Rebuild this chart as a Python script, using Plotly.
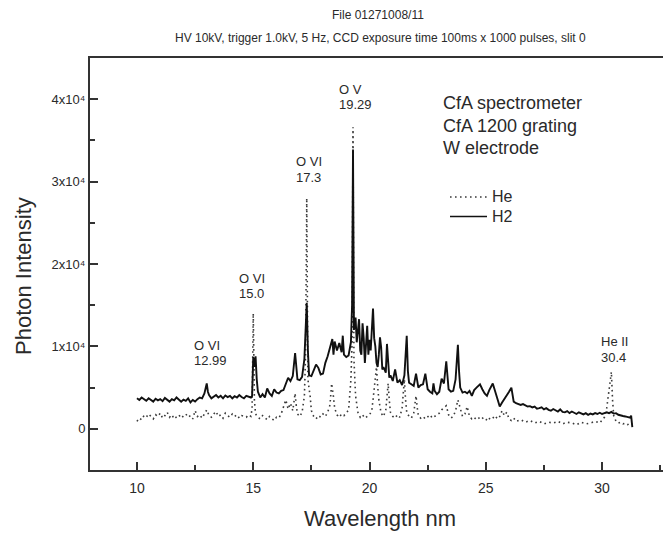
import plotly.graph_objects as go

# ---------------- data ----------------
he_wavelength = [10.0, 10.1, 10.2, 10.3, 10.4, 10.5, 10.6, 10.7, 10.8, 10.9,
                 11.0, 11.1, 11.2, 11.3, 11.4, 11.5, 11.6, 11.7, 11.8, 11.9,
                 12.0, 12.1, 12.2, 12.3, 12.4, 12.5, 12.6, 12.7, 12.8, 12.9,
                 13.0, 13.1, 13.2, 13.3, 13.4, 13.5, 13.6, 13.7, 13.8, 13.9,
                 14.0, 14.1, 14.2, 14.3, 14.4, 14.5, 14.6, 14.7, 14.8, 14.9,
                 14.95, 15.0, 15.05, 15.1, 15.2, 15.3, 15.4, 15.5, 15.6, 15.7,
                 15.8, 15.9, 16.0, 16.1, 16.2, 16.3, 16.4, 16.5, 16.6, 16.7,
                 16.8, 16.85, 16.9, 17.0, 17.1, 17.2, 17.25, 17.3, 17.35, 17.4,
                 17.45, 17.5, 17.6, 17.7, 17.8, 17.9, 18.0, 18.1, 18.2, 18.3,
                 18.37, 18.45, 18.5, 18.6, 18.7, 18.8, 18.9, 19.0, 19.1, 19.2,
                 19.25, 19.29, 19.33, 19.4, 19.5, 19.6, 19.7, 19.8, 19.9, 20.0,
                 20.1, 20.2, 20.3, 20.35, 20.4, 20.5, 20.6, 20.7, 20.8, 20.85,
                 20.9, 21.0, 21.1, 21.2, 21.3, 21.4, 21.5, 21.55, 21.6, 21.7,
                 21.8, 21.9, 22.0, 22.05, 22.1, 22.2, 22.3, 22.4, 22.5, 22.6,
                 22.7, 22.8, 22.9, 23.0, 23.1, 23.2, 23.3, 23.4, 23.5, 23.6,
                 23.7, 23.8, 23.9, 24.0, 24.1, 24.2, 24.3, 24.4, 24.5, 24.6,
                 24.7, 24.8, 24.9, 25.0, 25.1, 25.2, 25.3, 25.4, 25.5, 25.6,
                 25.7, 25.8, 25.9, 26.0, 26.1, 26.2, 26.3, 26.5, 26.7, 26.9,
                 27.1, 27.3, 27.5, 27.7, 27.9, 28.1, 28.3, 28.5, 28.7, 28.9,
                 29.1, 29.3, 29.5, 29.7, 29.9, 30.0, 30.1, 30.2, 30.3, 30.4,
                 30.45, 30.5, 30.6, 30.7, 30.8, 30.9, 31.0, 31.1, 31.2, 31.3]
he_intensity = [900, 1300, 1100, 1600, 1400, 1800, 1500, 1200, 1700, 1500,
                1900, 1300, 1600, 2000, 1400, 1700, 1200, 1500, 1700, 1300,
                1600, 1800, 1400, 1600, 1200, 2200, 1500, 1700, 1300, 1900,
                2300, 1600, 1400, 1800, 2100, 1500, 1700, 1300, 1900, 1600,
                1400, 1800, 1500, 1700, 1300, 1600, 1500, 1400, 1700, 1500,
                2500, 14000, 3500, 1800, 1400, 1200, 1600, 1300, 1100, 1500,
                1200, 1000, 1400, 1300, 1800, 2600, 3500, 2400, 3100, 2200,
                4300, 2800, 1800, 1500, 2000, 4000, 9000, 28000, 6000, 4900,
                3900, 2200, 1500, 1200, 1600, 1400, 1800, 1500, 2000, 2900,
                5500, 3900, 2500, 1700, 1400, 1800, 1600, 1900, 2300, 6000,
                10500, 36600, 8500, 4000, 2000, 1400, 1700, 1300, 1500, 1700,
                2200, 4500, 7500, 5200, 3500, 1900, 1500, 2300, 5500, 3500,
                2000, 1500, 1300, 1700, 1400, 2500, 6000, 3500, 2000, 1500,
                1300, 1900, 4000, 2600, 1600, 1300, 1500, 1200, 1400, 1700,
                1300, 1500, 1600, 1900, 2300, 2600, 2800, 1700, 1300, 1500,
                2200, 3500, 2600, 1500, 1800, 2700, 1500, 1200, 1400, 1100,
                1300, 1500, 1200, 1000, 1400, 1100, 1300, 1600, 1200, 1500,
                2200, 1600, 2000, 1200, 1000, 1300, 900, 1100, 800, 1000,
                700, 900, 600, 800, 700, 900, 600, 800, 700, 500,
                800, 600, 700, 900, 700, 1000, 1400, 2500, 4500, 6900,
                3500, 1600, 900, 700, 800, 600, 700, 500, 650, 600]

h2_wavelength = [10.0, 10.1, 10.2, 10.3, 10.4, 10.5, 10.6, 10.7, 10.8, 10.9,
                 11.0, 11.1, 11.2, 11.3, 11.4, 11.5, 11.6, 11.7, 11.8, 11.9,
                 12.0, 12.1, 12.2, 12.3, 12.4, 12.5, 12.6, 12.7, 12.8, 12.9,
                 12.95, 13.0, 13.05, 13.1, 13.2, 13.3, 13.4, 13.5, 13.6, 13.7,
                 13.8, 13.9, 14.0, 14.1, 14.2, 14.3, 14.4, 14.5, 14.6, 14.7,
                 14.8, 14.9, 14.95, 15.0, 15.05, 15.1, 15.15, 15.2, 15.3, 15.4,
                 15.5, 15.6, 15.7, 15.8, 15.9, 16.0, 16.1, 16.2, 16.3, 16.4,
                 16.5, 16.6, 16.7, 16.8, 16.85, 16.9, 17.0, 17.1, 17.2, 17.25,
                 17.3, 17.35, 17.4, 17.5, 17.6, 17.7, 17.8, 17.9, 18.0, 18.1,
                 18.2, 18.3, 18.4, 18.45, 18.5, 18.6, 18.7, 18.8, 18.85, 18.9,
                 19.0, 19.1, 19.2, 19.25, 19.29, 19.33, 19.4, 19.45, 19.5, 19.55,
                 19.6, 19.65, 19.7, 19.75, 19.8, 19.85, 19.9, 19.95, 20.0, 20.05,
                 20.1, 20.15, 20.2, 20.25, 20.3, 20.35, 20.4, 20.45, 20.5, 20.55,
                 20.6, 20.7, 20.75, 20.8, 20.85, 20.9, 21.0, 21.1, 21.2, 21.3,
                 21.4, 21.5, 21.55, 21.6, 21.65, 21.7, 21.8, 21.9, 22.0, 22.05,
                 22.1, 22.2, 22.3, 22.4, 22.45, 22.5, 22.6, 22.7, 22.75, 22.8,
                 22.9, 23.0, 23.1, 23.2, 23.3, 23.35, 23.4, 23.5, 23.6, 23.7,
                 23.8, 23.85, 23.9, 24.0, 24.1, 24.2, 24.3, 24.4, 24.5, 24.6,
                 24.75, 24.85, 24.95, 25.05, 25.15, 25.3, 25.4, 25.5, 25.6, 25.7,
                 25.8, 25.9, 26.0, 26.1, 26.2, 26.3, 26.4, 26.5, 26.6, 26.7,
                 26.8, 26.9, 27.0, 27.1, 27.2, 27.3, 27.4, 27.5, 27.6, 27.7,
                 27.8, 27.9, 28.0, 28.1, 28.2, 28.3, 28.4, 28.5, 28.6, 28.7,
                 28.8, 28.9, 29.0, 29.1, 29.2, 29.3, 29.4, 29.5, 29.6, 29.7,
                 29.8, 29.9, 30.0, 30.1, 30.2, 30.3, 30.4, 30.5, 30.6, 30.7,
                 30.8, 30.9, 31.0, 31.1, 31.2, 31.25, 31.3]
h2_intensity = [3700, 3500, 3800, 3600, 3400, 3700, 3550, 3300, 3650, 3450,
                3600, 3350, 3750, 3500, 3300, 3600, 3450, 3800, 3500, 3300,
                3550, 3400, 3700, 3200, 3500, 3300, 3600, 3800, 3700, 4300,
                4900, 5500, 4500, 4100, 3700, 3900, 4100, 3800, 4000, 3700,
                4050, 3850, 4000, 3700, 3950, 3800, 4100, 3850, 3700, 4000,
                3900, 3800, 4000, 8700, 7500, 8800, 6000, 4500, 3800, 4200,
                3800, 4900, 4300, 4000, 4800, 4400, 4300, 4600, 4700, 5500,
                6200, 5800, 6400, 9200, 7000, 6000, 5900, 6300, 8500, 12000,
                15300, 9500, 6500, 6400, 7200, 7800, 7400, 6600, 6700, 8000,
                8800, 9900, 10900, 9000, 10600, 9500, 10400, 9300, 11300, 9000,
                8700, 8900, 10500, 15000, 33900, 12000, 13500, 10500, 12000, 13300,
                9500, 9000, 12800, 11000, 8000, 10500, 12500, 9000, 10800, 9500,
                13000, 14600, 11000, 10000, 8000, 7500, 9000, 11100, 9900, 7200,
                7500, 6800, 10300, 8500, 6200, 6500, 5800, 7200, 5600, 5900,
                5300, 6500, 9000, 11300, 7000, 5600, 5400, 5200, 6700, 5800,
                5000, 5300, 5400, 6700, 5600, 4800, 4500, 4300, 5500, 4600,
                4200, 4500, 6100, 5500, 8200, 6000, 4800, 4500, 4600, 6000,
                10200, 7000, 5000, 4400, 4500, 4300, 4600, 4000, 4700, 5000,
                5400, 4800, 4300, 4000, 4700, 5500, 4500, 3600, 2700, 3200,
                3600, 4100, 4500, 5000, 3300, 3100, 3000, 2900, 3000, 2800,
                2700, 2750, 2600, 2700, 2450, 2500, 2600, 2350, 2500, 2300,
                2200, 2400, 2200, 2100, 2350, 2050, 2000, 2150, 1900, 2100,
                1950, 1800, 2000, 1850, 1750, 1900, 1700, 1850, 1750, 1900,
                1800, 1950, 1800, 1900, 2000, 1900, 2050, 1850, 1900, 1700,
                1600, 1550, 1500, 1450, 1350, 1600, 200]

y_tick_values = [0, 10000, 20000, 30000, 40000]
y_tick_labels = ["0", "1x10\u2074", "2x10\u2074", "3x10\u2074", "4x10\u2074"]
x_tick_values = [10, 15, 20, 25, 30]

series_names = ["He", "H2"]
peak_ions = ["O VI", "O VI", "O VI", "O V", "He II"]
peak_values = ["12.99", "15.0", "17.3", "19.29", "30.4"]

# ---------------- layout helpers (pixel -> paper) ----------------
W, H = 663, 538
ML, MR, MT, MB = 90, 0, 58, 68
PW, PH = W - ML - MR, H - MT - MB


def px(x):
    return (x - ML) / PW


def py(y):
    return (H - MB - y) / PH


FONT = "Liberation Sans, Arial, sans-serif"
TXT = "#2a2a2a"
HE_STYLE = dict(color="#3a3a3a", width=1.6, dash="1.6px,3.4px")
H2_STYLE = dict(color="#111111", width=1.9)

fig = go.Figure()
fig.add_trace(go.Scatter(x=he_wavelength, y=he_intensity, mode="lines",
                         name=series_names[0], line=HE_STYLE, hoverinfo="skip"))
fig.add_trace(go.Scatter(x=h2_wavelength, y=h2_intensity, mode="lines",
                         name=series_names[1], line=H2_STYLE, hoverinfo="skip"))

ann = []


def label(text, x, y, size, anchor="center", angle=0):
    ann.append(dict(text=text, x=px(x), y=py(y), xref="paper", yref="paper",
                    xanchor=anchor, yanchor="middle", showarrow=False, textangle=angle,
                    font=dict(size=size, color=TXT, family=FONT)))


# titles
label("File 01271008/11", 378, 15, 12)
label("HV 10kV, trigger 1.0kV, 5 Hz, CCD exposure time 100ms x 1000 pulses, slit 0", 380, 38, 12)
# axis titles
label("Wavelength nm", 380, 518, 22)
label("Photon Intensity", 23, 276, 22, angle=-90)
# instrument notes
for t, yy in zip(["CfA spectrometer", "CfA 1200 grating", "W electrode"], [103.3, 125.7, 148.3]):
    label(t, 441, yy, 18, anchor="left")
# peak labels (ion name above wavelength)
for ion, val, (lx, y1, y2) in zip(peak_ions, peak_values,
                                  [(192, 345, 360.5), (237, 278, 293), (294, 161, 177.5),
                                   (336.5, 89.5, 105), (599, 341, 357.5)]):
    label(ion, lx, y1, 13, anchor="left")
    label(val, lx, y2, 13, anchor="left")

# hand-placed legend (tight spacing as in the reference)
shapes = []
for name, style, yy in zip(series_names, [HE_STYLE, H2_STYLE], [197, 216.5]):
    shapes.append(dict(type="line", xref="paper", yref="paper", x0=px(450), x1=px(487),
                       y0=py(yy), y1=py(yy),
                       line=dict(color=style["color"], width=style["width"] if name == "He" else 1.6,
                                 dash=style.get("dash", "solid"))))
    label(name, 490, yy, 16, anchor="left")

fig.update_layout(
    width=W, height=H,
    margin=dict(l=ML, r=MR, t=MT, b=MB, pad=0),
    paper_bgcolor="white", plot_bgcolor="white",
    font=dict(family=FONT, color=TXT),
    annotations=ann, shapes=shapes,
    showlegend=False,
)
fig.update_xaxes(range=[7.98, 32.62], showline=True, linewidth=2, linecolor="#333",
                 mirror=True, showgrid=False, zeroline=False,
                 tickmode="array", tickvals=x_tick_values, ticks="inside", ticklen=8,
                 tickwidth=1.5, tickcolor="#333", ticklabelstandoff=4,
                 minor=dict(tickvals=[12.5, 17.5, 22.5, 27.5, 32.5], ticks="inside",
                            ticklen=5, tickwidth=1.5, tickcolor="#333", showgrid=False),
                 tickfont=dict(size=14, color=TXT, family=FONT))
fig.update_yaxes(range=[-5000, 45000], showline=True, linewidth=2, linecolor="#333",
                 mirror=False, showgrid=False, zeroline=False,
                 tickmode="array", tickvals=y_tick_values, ticktext=y_tick_labels,
                 ticks="inside", ticklen=8, tickwidth=1.5, tickcolor="#333",
                 minor=dict(tickvals=[5000, 15000, 25000, 35000], ticks="inside",
                            ticklen=5, tickwidth=1.5, tickcolor="#333", showgrid=False),
                 tickfont=dict(size=13, color=TXT, family=FONT))

fig.write_html("out.html", config={"displayModeBar": False},
               post_script=["document.body.style.margin='0px';"])
